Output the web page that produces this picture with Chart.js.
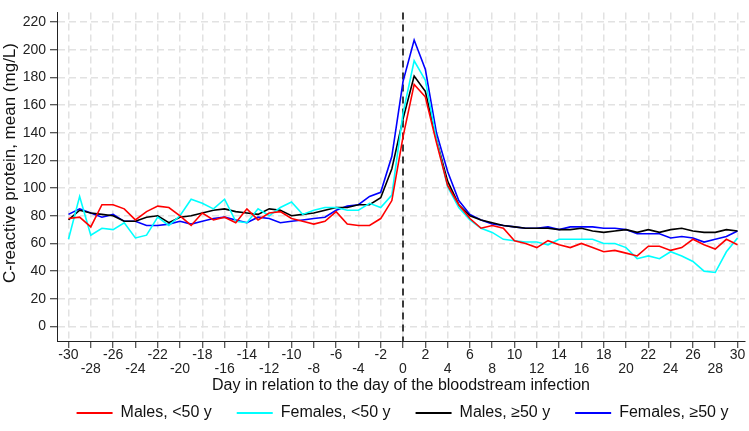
<!DOCTYPE html>
<html>
<head>
<meta charset="utf-8">
<script src="https://cdn.jsdelivr.net/npm/chart.js"></script>
<style>
  body { margin: 0; padding: 0; background: #fff; }
</style>
</head>
<body>
<canvas id="crpChart" width="749" height="431"></canvas>
<script>
// days relative to the bloodstream infection
const days = [-30, -29, -28, -27, -26, -25, -24, -23, -22, -21, -20, -19, -18, -17, -16, -15,
  -14, -13, -12, -11, -10, -9, -8, -7, -6, -5, -4, -3, -2, -1, 0, 1, 2, 3, 4, 5, 6, 7, 8, 9, 10,
  11, 12, 13, 14, 15, 16, 17, 18, 19, 20, 21, 22, 23, 24, 25, 26, 27, 28, 29, 30];

// mean CRP (mg/L)
const malesUnder50 = [78, 79, 72, 88, 88, 85, 77, 83, 87, 86, 80, 73, 82, 77, 79, 75,
  85, 77, 82, 83, 78, 76, 74, 76, 83, 74, 73, 73, 78, 91, 137, 175, 166, 133, 102, 88, 78, 71, 73, 71, 62,
  60, 57, 62, 59, 57, 60, 57, 54, 55, 53, 51, 58, 58, 55, 57, 63, 59, 56, 63, 59];
const femalesUnder50 = [63, 94, 66, 71, 70, 75, 64, 66, 79, 73, 80, 92, 89, 85, 92, 76,
  75, 85, 80, 86, 90, 81, 84, 86, 86, 84, 84, 89, 86, 95, 154, 192, 178, 135, 101, 86, 77, 71, 68, 63, 62,
  61, 61, 59, 63, 63, 63, 63, 60, 60, 57, 49, 51, 49, 54, 51, 47, 40, 39, 54, 64];
const males50plus = [77, 84, 82, 81, 80, 76, 76, 79, 80, 75, 79, 80, 82, 84, 85, 83,
  82, 81, 85, 84, 80, 81, 82, 84, 86, 86, 88, 88, 93, 114, 150, 181, 170, 135, 105, 88, 80, 77, 75, 73, 72,
  71, 71, 71, 70, 70, 71, 69, 68, 69, 70, 68, 70, 68, 70, 71, 69, 68, 68, 70, 69];
const females50plus = [81, 85, 82, 79, 81, 76, 76, 73, 73, 74, 76, 74, 76, 78, 79, 77,
  75, 79, 78, 75, 76, 77, 78, 79, 84, 87, 88, 94, 97, 123, 177, 207, 186, 140, 112, 91, 81, 77, 74, 73, 72,
  71, 71, 72, 70, 72, 72, 72, 71, 71, 70, 67, 67, 67, 64, 65, 64, 61, 63, 65, 69];

const seriesNames = ['Males, <50 y', 'Females, <50 y', 'Males, \u226550 y', 'Females, \u226550 y'];
const seriesColors = ['#ff0000', '#00ffff', '#000000', '#0000ff'];

const xTicks = [-30, -28, -26, -24, -22, -20, -18, -16, -14, -12, -10, -8, -6, -4, -2,
  0, 2, 4, 6, 8, 10, 12, 14, 16, 18, 20, 22, 24, 26, 28, 30];
const yTicks = [0, 20, 40, 60, 80, 100, 120, 140, 160, 180, 200, 220];

const FONT = "'Liberation Sans', Arial, sans-serif";
Chart.defaults.font.family = FONT;

const allSeries = [malesUnder50, femalesUnder50, males50plus, females50plus];
const datasets = allSeries.map((vals, i) => ({
  label: seriesNames[i],
  data: days.map((d, j) => ({ x: d, y: vals[j] })),
  borderColor: seriesColors[i],
  backgroundColor: seriesColors[i],
  borderWidth: 1.6,
  pointRadius: 0,
  tension: 0
}));

// dashed vertical line on day 0
const dayZeroLine = {
  id: 'dayZeroLine',
  beforeDatasetsDraw(chart) {
    const { ctx, chartArea, scales } = chart;
    const px = scales.x.getPixelForValue(0);
    ctx.save();
    ctx.strokeStyle = '#000';
    ctx.lineWidth = 1.5;
    ctx.setLineDash([7, 5]);
    ctx.beginPath();
    ctx.moveTo(px, chartArea.top);
    ctx.lineTo(px, chartArea.bottom);
    ctx.stroke();
    ctx.restore();
  }
};

// y title sits a bit above the middle of the axis, legend centred on the plot
const yTitle = {
  id: 'yTitle',
  afterLayout(chart) {
    chart.legend.left += 30;
    chart.legend.right += 30;
  },
  afterDraw(chart) {
    const ctx = chart.ctx;
    ctx.save();
    ctx.translate(10, 163);
    ctx.rotate(-Math.PI / 2);
    ctx.font = '17px ' + FONT;
    ctx.fillStyle = '#111';
    ctx.textAlign = 'center';
    ctx.textBaseline = 'middle';
    ctx.fillText('C-reactive protein, mean (mg/L)', 0, 0);
    ctx.restore();
  }
};

const gridOpts = {
  color: '#e2e2e2',
  lineWidth: 1.5,
  tickLength: 7,
  tickColor: '#222',
  tickWidth: 1
};
const borderOpts = { display: true, color: '#222', width: 1, dash: [7, 4] };

new Chart(document.getElementById('crpChart').getContext('2d'), {
  type: 'line',
  data: { datasets },
  options: {
    responsive: false,
    animation: false,
    layout: { padding: { top: 2, right: 4, left: 0, bottom: 0 } },
    plugins: {
      tooltip: { enabled: false },
      legend: {
        position: 'bottom',
        labels: {
          boxWidth: 36,
          boxHeight: 2,
          padding: 25,
          color: '#111',
          font: { size: 16 },
          generateLabels: (chart) => Chart.defaults.plugins.legend.labels.generateLabels(chart)
            .map(item => ({ ...item, lineWidth: 0, fillStyle: item.strokeStyle }))
        }
      }
    },
    scales: {
      x: {
        type: 'linear',
        min: -31.03,
        max: 30.67,
        afterBuildTicks: (scale) => { scale.ticks = xTicks.map(v => ({ value: v })); },
        afterFit: (scale) => { scale.height = 39; },
        ticks: {
          autoSkip: false,
          maxRotation: 0,
          padding: 0,
          color: '#222',
          font: { size: 14, lineHeight: 1 },
          // staggered labels: every other one drops to a second row
          callback: (v, i) => (i % 2 === 0 ? String(v) : ['', String(v)])
        },
        grid: gridOpts,
        border: borderOpts,
        title: {
          display: true,
          text: 'Day in relation to the day of the bloodstream infection',
          color: '#111',
          font: { size: 16 },
          padding: { top: 0, bottom: -15 }
        }
      },
      y: {
        min: -10.5,
        max: 227,
        afterBuildTicks: (scale) => { scale.ticks = yTicks.map(v => ({ value: v })); },
        afterFit: (scale) => { scale.width = 57; },
        ticks: { padding: 4, color: '#222', font: { size: 14 } },
        grid: gridOpts,
        border: borderOpts
      }
    }
  },
  plugins: [dayZeroLine, yTitle]
});
</script>
</body>
</html>
